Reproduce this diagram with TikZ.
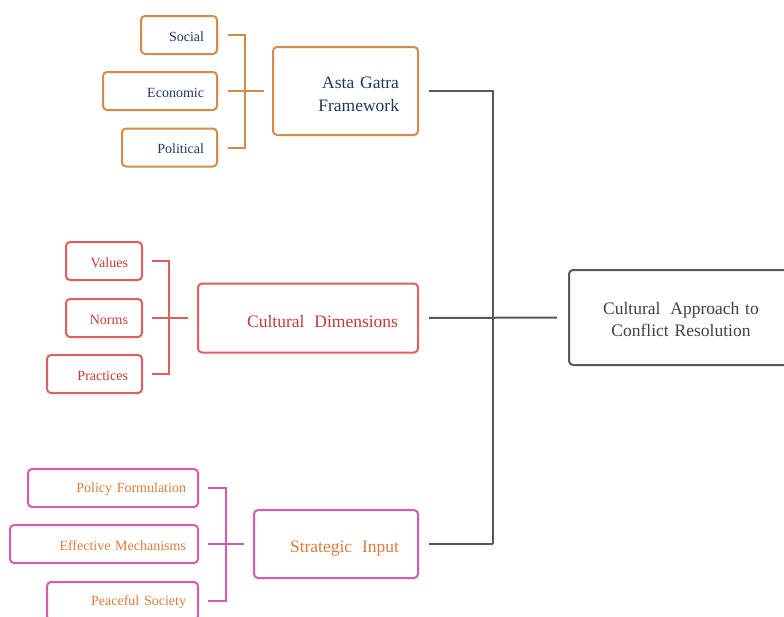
\documentclass[tikz,border=0pt]{standalone}
\usepackage{fontspec}
\setmainfont{Liberation Serif}
\definecolor{orA}{HTML}{D38B4A}
\definecolor{navy}{HTML}{1F3864}
\definecolor{redB}{HTML}{DD5F5F}
\definecolor{redT}{HTML}{C63A36}
\definecolor{pinkC}{HTML}{D65AB0}
\definecolor{orT}{HTML}{E07B39}
\definecolor{grayL}{HTML}{595959}
\definecolor{grayT}{HTML}{404040}
\newcommand{\lowtext}[2]{\raisebox{-#1}[\height][\depth]{#2}}
\tikzset{
  box/.style={draw, line width=2pt, rounded corners=4pt, fill=white, align=right, inner ysep=0pt},
  small/.style={box, font=\fontsize{14}{16}\selectfont, minimum height=38pt},
  big/.style={box, font=\fontsize{17.5}{23}\selectfont},
  conn/.style={line width=2pt},
}
\begin{document}
\begin{tikzpicture}[x=1pt,y=-1pt]
\useasboundingbox (0,0) rectangle (784,616);
% Asta Gatra group
\node[small, draw=orA, text=navy, inner xsep=13pt, text width=50pt, minimum width=76pt] (soc) at (179,35) {\lowtext{1.5pt}{Social}};
\node[small, draw=orA, text=navy, inner xsep=13pt, text width=88pt, minimum width=114pt] (eco) at (160,91) {\lowtext{1.5pt}{Economic}};
\node[small, draw=orA, text=navy, inner xsep=13pt, text width=69pt, minimum width=95pt] (pol) at (169.5,147.5) {\lowtext{1.5pt}{Political}};
\node[big, draw=orA, text=navy, inner xsep=19pt, text width=107pt, minimum width=145pt, minimum height=88pt] (ast) at (345.5,91) {\lowtext{4pt}{\begin{tabular}{@{}r@{}}Asta Gatra\\Framework\end{tabular}}};
\coordinate (ja) at (245,91);
\draw[conn, orA, shorten <=10pt] (soc.east) -| (ja);
\draw[conn, orA, shorten <=10pt] (pol.east) -| (ja);
\draw[conn, orA, shorten <=10pt, shorten >=8pt] (eco.east) -- (ast.west);
% Cultural group
\node[small, draw=redB, text=redT, inner xsep=14pt, text width=48pt, minimum width=76pt] (val) at (104,261) {\lowtext{1.5pt}{Values}};
\node[small, draw=redB, text=redT, inner xsep=14pt, text width=48pt, minimum width=76pt] (nor) at (104,318) {\lowtext{1.5pt}{Norms}};
\node[small, draw=redB, text=redT, inner xsep=14pt, text width=67pt, minimum width=95pt] (pra) at (94.5,374) {\lowtext{1.5pt}{Practices}};
\node[big, draw=redB, text=redT, inner xsep=20pt, text width=180pt, minimum width=220pt, minimum height=69pt] (cul) at (308,318) {\lowtext{4pt}{Cultural\hspace{4pt} Dimensions}};
\coordinate (jb) at (169,318);
\draw[conn, redB, shorten <=9pt] (val.east) -| (jb);
\draw[conn, redB, shorten <=9pt] (pra.east) -| (jb);
\draw[conn, redB, shorten <=9pt, shorten >=9pt] (nor.east) -- (cul.west);
% Strategic group
\node[small, draw=pinkC, text=orT, inner xsep=12pt, text width=146pt, minimum width=170pt] (pf) at (113,488) {\lowtext{1.5pt}{Policy Formulation}};
\node[small, draw=pinkC, text=orT, inner xsep=12pt, text width=164pt, minimum width=188pt] (em) at (104,544) {\lowtext{1.5pt}{Effective Mechanisms}};
\node[small, draw=pinkC, text=orT, inner xsep=12pt, text width=127pt, minimum width=151pt] (ps) at (122.5,601) {\lowtext{1.5pt}{Peaceful Society}};
\node[big, draw=pinkC, text=orT, inner xsep=19pt, text width=126pt, minimum width=164pt, minimum height=68pt] (str) at (336,544) {\lowtext{5pt}{Strategic\hspace{4pt} Input}};
\coordinate (jc) at (226,544);
\draw[conn, pinkC, shorten <=9pt] (pf.east) -| (jc);
\draw[conn, pinkC, shorten <=9pt] (ps.east) -| (jc);
\draw[conn, pinkC, shorten <=9pt, shorten >=9pt] (em.east) -- (str.west);
% Central
\node[big, draw=grayL, text=grayT, align=center, text width=200pt, minimum width=224pt, minimum height=95pt, font=\fontsize{17.5}{22}\selectfont] (car) at (681,317.5) {\lowtext{4pt}{\begin{tabular}{@{}c@{}}Cultural\hspace{4pt} Approach to\\Conflict Resolution\end{tabular}}};
\coordinate (jd) at (493,544);
\draw[conn, grayL, shorten <=10pt] (ast.east) -| (jd);
\draw[conn, grayL, shorten <=10pt] (str.east) -- (jd);
\draw[conn, grayL, shorten <=10pt, shorten >=11pt] (cul.east) -- (car.west);
\end{tikzpicture}
\end{document}
